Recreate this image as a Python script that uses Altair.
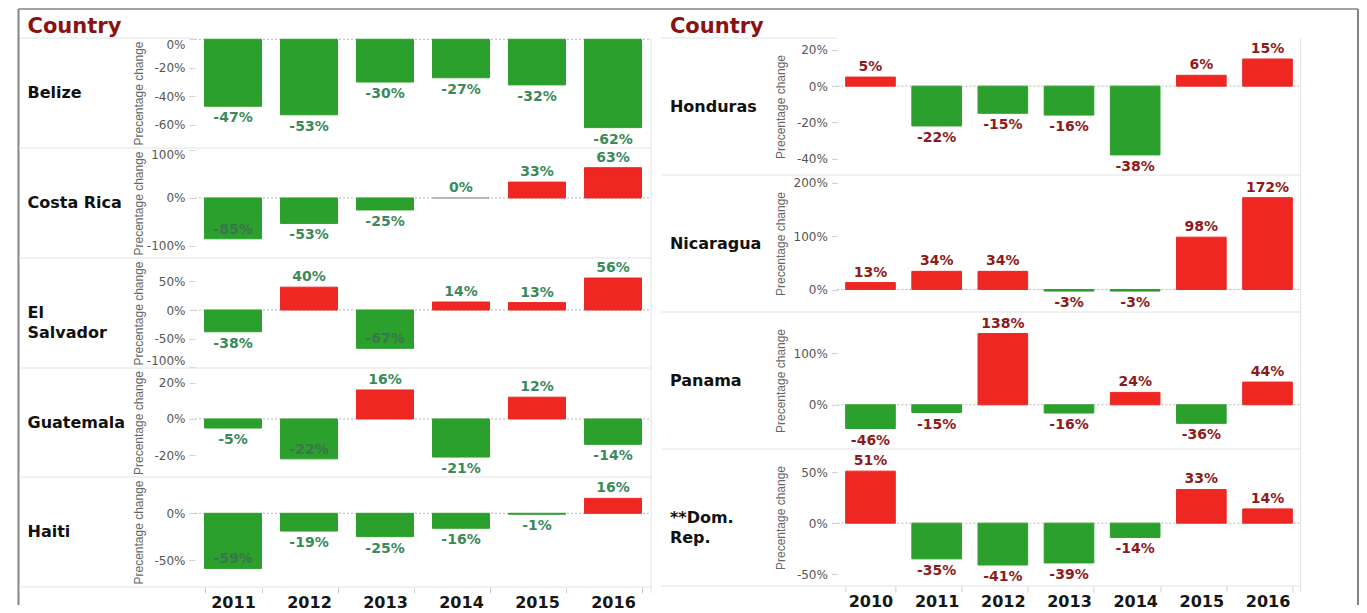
import altair as alt
import pandas as pd

# ---------------- data ----------------
LEFT_YEARS = [2011, 2012, 2013, 2014, 2015, 2016]
RIGHT_YEARS = [2010, 2011, 2012, 2013, 2014, 2015, 2016]

LEFT_COUNTRIES = ["Belize", "Costa Rica", "El Salvador", "Guatemala", "Haiti"]
RIGHT_COUNTRIES = ["Honduras", "Nicaragua", "Panama", "**Dom. Rep."]
DISPLAY_NAMES = {"El Salvador": "El\nSalvador", "**Dom. Rep.": "**Dom.\nRep."}

BELIZE = [-47, -53, -30, -27, -32, -62]
COSTA_RICA = [-85, -53, -25, 0, 33, 63]
EL_SALVADOR = [-38, 40, -67, 14, 13, 56]
GUATEMALA = [-5, -22, 16, -21, 12, -14]
HAITI = [-59, -19, -25, -16, -1, 16]
HONDURAS = [5, -22, -15, -16, -38, 6, 15]
NICARAGUA = [13, 34, 34, -3, -3, 98, 172]
PANAMA = [-46, -15, 138, -16, 24, -36, 44]
DOM_REP = [51, -35, -41, -39, -14, 33, 14]

VALUES = {
    "Belize": BELIZE, "Costa Rica": COSTA_RICA, "El Salvador": EL_SALVADOR,
    "Guatemala": GUATEMALA, "Haiti": HAITI, "Honduras": HONDURAS,
    "Nicaragua": NICARAGUA, "Panama": PANAMA, "**Dom. Rep.": DOM_REP,
}

# per-row axis settings
Y_DOMAIN = {
    "Belize": [-76.3, 0.9], "Costa Rica": [-125, 104], "El Salvador": [-101.4, 91],
    "Guatemala": [-32, 28.1], "Haiti": [-78.9, 38.9], "Honduras": [-49.1, 26.6],
    "Nicaragua": [-42.1, 214.4], "Panama": [-85.7, 179.8], "**Dom. Rep.": [-61.6, 72.7],
}
Y_TICKS = {
    "Belize": [0, -20, -40, -60], "Costa Rica": [100, 0, -100],
    "El Salvador": [50, 0, -50, -100], "Guatemala": [20, 0, -20], "Haiti": [0, -50],
    "Honduras": [20, 0, -20, -40], "Nicaragua": [200, 100, 0], "Panama": [100, 0],
    "**Dom. Rep.": [50, 0, -50],
}
# labels that sit inside the bar end (no room below)
INSIDE = {("Costa Rica", 2011), ("El Salvador", 2013), ("Guatemala", 2012), ("Haiti", 2011)}

GREEN, RED, GREY = "#2ca02c", "#ee2722", "#a8a8a8"
LEFT_LABEL, RIGHT_LABEL = "#3b8a5a", "#8e1b1b"
INSIDE_LABEL = "#3a7550"
TITLE_RED = "#8b1212"
SEP = "#e2e2e2"
FRAME = "#858585"
BOLD = "DejaVu Sans"

LEFT_W, RIGHT_W = 456, 463.2
LEFT_H = [110, 110, 110, 109, 110]
RIGHT_H = [137, 137, 137, 137]
LABEL_X = -167.5
SEP_X = -176
PANEL_GAP = 186.4


def one(**kw):
    return pd.DataFrame({k: [v] for k, v in kw.items()} or {"a": [0]})


def make_row(country, years, w, h, label_color, first, last, extras):
    vals = VALUES[country]
    df = pd.DataFrame({"year": years, "value": vals})
    df["sign"] = ["pos" if v > 0 else ("neg" if v < 0 else "zero") for v in vals]
    df["label"] = [f"{v}%" for v in vals]
    df["place"] = [
        "inside" if (country, yr) in INSIDE else ("below" if v < 0 else "above")
        for yr, v in zip(years, vals)
    ]

    if last:
        xaxis = alt.Axis(title=None, labelAngle=0, domain=False, tickBand="extent",
                         tickColor="#d0d0d0", tickSize=6, labelFont=BOLD,
                         labelFontWeight="bold", labelFontSize=16, labelColor="#161616",
                         labelPadding=1)
    else:
        xaxis = None
    x = alt.X("year:O", scale=alt.Scale(paddingInner=0.25, paddingOuter=0.125), axis=xaxis)
    y = alt.Y("value:Q",
              scale=alt.Scale(domain=Y_DOMAIN[country], nice=False),
              axis=alt.Axis(values=Y_TICKS[country], labelExpr="datum.value + '%'",
                            title="Precentage change", titleX=-57, titleY=h / 2,
                            titleAngle=-90, titleAlign="center", titleBaseline="middle",
                            titleFont="Liberation Sans", titleFontSize=12,
                            titleFontWeight="normal", titleColor="#666666",
                            labelFont="DejaVu Sans", labelFontSize=12, labelColor="#555555",
                            tickColor="#d0d0d0", tickSize=6, labelPadding=4,
                            domain=False, grid=False, labelFlush=4))

    base = alt.Chart(df).encode(x=x, y=y)
    cscale = alt.Scale(domain=["neg", "pos", "zero"], range=[GREEN, RED, GREY])
    bars = base.mark_bar(strokeWidth=1).encode(
        color=alt.Color("sign:N", scale=cscale, legend=None),
        stroke=alt.Stroke("sign:N", scale=cscale, legend=None),
    )
    tstyle = dict(font=BOLD, fontWeight="bold", fontSize=14,
                  baseline="middle", align="center")
    above = base.transform_filter("datum.place == 'above'").mark_text(
        dy=-10, color=label_color, **tstyle).encode(text="label:N")
    below = base.transform_filter("datum.place == 'below'").mark_text(
        dy=12, color=label_color, **tstyle).encode(text="label:N")
    inside = base.transform_filter("datum.place == 'inside'").mark_text(
        dy=-9, color=INSIDE_LABEL, **tstyle).encode(text="label:N")

    zero_line = alt.Chart(pd.DataFrame({"value": [0]})).mark_rule(
        color="#b8b8b8", strokeDash=[2, 2], strokeWidth=1
    ).encode(y=y, x=alt.value(0), x2=alt.value(w))

    sep_top = alt.Chart(one()).mark_rule(color=SEP, strokeWidth=1).encode(
        x=alt.value(SEP_X), x2=alt.value(0 if first else w), y=alt.value(0))
    vline = alt.Chart(one()).mark_rule(color=SEP, strokeWidth=1).encode(
        x=alt.value(w), y=alt.value(0), y2=alt.value(h + 6 if last else h))

    name = alt.Chart(pd.DataFrame({"name": [DISPLAY_NAMES.get(country, country)]})).mark_text(
        align="left", baseline="middle", font=BOLD, fontWeight="bold", fontSize=16,
        color="#111111", lineBreak="\n", lineHeight=20
    ).encode(text="name:N", x=alt.value(LABEL_X), y=alt.value(h / 2))

    layers = [sep_top, vline, zero_line, bars, above, below, inside, name]
    if last:
        layers.append(alt.Chart(one()).mark_rule(color=SEP, strokeWidth=1).encode(
            x=alt.value(SEP_X), x2=alt.value(w), y=alt.value(h)))
    if first:
        layers.append(alt.Chart(pd.DataFrame({"t": ["Country"]})).mark_text(
            align="left", baseline="alphabetic", font=BOLD, fontWeight="bold",
            fontSize=21, color=TITLE_RED
        ).encode(text="t:N", x=alt.value(LABEL_X), y=alt.value(-5)))
    layers.extend(extras)
    return alt.layer(*layers).properties(width=w, height=h)


# outer frame pieces
left_extras = [
    alt.Chart(one()).mark_rule(color=FRAME, strokeWidth=2).encode(
        x=alt.value(-176.5), y=alt.value(-29), y2=alt.value(567)),
    alt.Chart(one()).mark_rule(color=FRAME, strokeWidth=1.5).encode(
        x=alt.value(-176.5), x2=alt.value(1163), y=alt.value(-29)),
]
right_extras = [
    alt.Chart(one()).mark_rule(color=FRAME, strokeWidth=2).encode(
        x=alt.value(520.6), y=alt.value(-29), y2=alt.value(567)),
]

left_rows = [
    make_row(c, LEFT_YEARS, LEFT_W, LEFT_H[i], LEFT_LABEL, i == 0, i == len(LEFT_COUNTRIES) - 1,
             left_extras if i == 0 else [])
    for i, c in enumerate(LEFT_COUNTRIES)
]
right_rows = [
    make_row(c, RIGHT_YEARS, RIGHT_W, RIGHT_H[i], RIGHT_LABEL, i == 0, i == len(RIGHT_COUNTRIES) - 1,
             right_extras if i == 0 else [])
    for i, c in enumerate(RIGHT_COUNTRIES)
]

left = alt.vconcat(*left_rows, spacing=0, bounds="flush")
right = alt.vconcat(*right_rows, spacing=0, bounds="flush")

# with flush bounds the nested column counts as zero width, so the gap includes the left plot width
chart = alt.hconcat(left, right, spacing=LEFT_W + PANEL_GAP, bounds="flush").properties(
    padding={"left": 9, "top": 0, "right": 0, "bottom": 0}
).configure(background="white", view=alt.ViewConfig(stroke=None))

chart.save("out.html", embed_options={"renderer": "svg", "actions": False})
